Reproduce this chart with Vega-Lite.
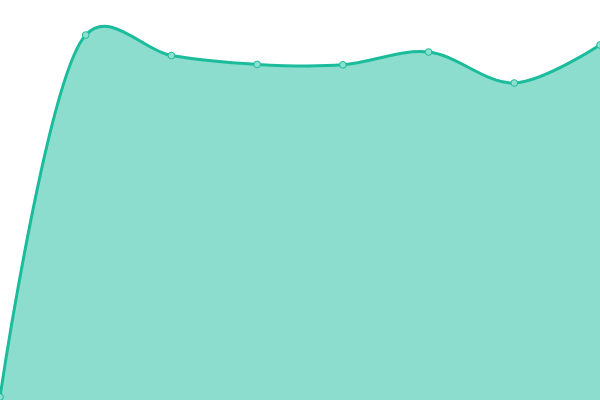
{
  "$schema": "https://vega.github.io/schema/vega-lite/v6.json",
  "autosize": {"type": "fit", "contains": "padding"},
  "width": 600,
  "height": 400,
  "padding": 0,
  "background": "white",
  "config": {"view": {"stroke": null}},
  "data": {"values": [
    {"x": 0, "y": 0.75},
    {"x": 1, "y": 91.25},
    {"x": 2, "y": 86.1},
    {"x": 3, "y": 83.9},
    {"x": 4, "y": 83.8},
    {"x": 5, "y": 87.0},
    {"x": 6, "y": 79.25},
    {"x": 7, "y": 88.75}
  ]},
  "encoding": {
    "x": {"field": "x", "type": "quantitative", "scale": {"domain": [0, 7], "nice": false, "zero": false}, "axis": null},
    "y": {"field": "y", "type": "quantitative", "scale": {"domain": [0, 100], "nice": false}, "axis": null}
  },
  "layer": [
    {"mark": {"type": "area", "interpolate": "catmull-rom", "tension": 0.3, "color": "#1abc9c", "fillOpacity": 0.5, "clip": true}},
    {"mark": {"type": "line", "interpolate": "catmull-rom", "tension": 0.3, "color": "#1abc9c", "strokeWidth": 3, "clip": true}},
    {"mark": {"type": "point", "filled": true, "fill": "#8ce0cf", "stroke": "#1abc9c", "strokeWidth": 1, "size": 45, "opacity": 1, "clip": true}}
  ]
}
